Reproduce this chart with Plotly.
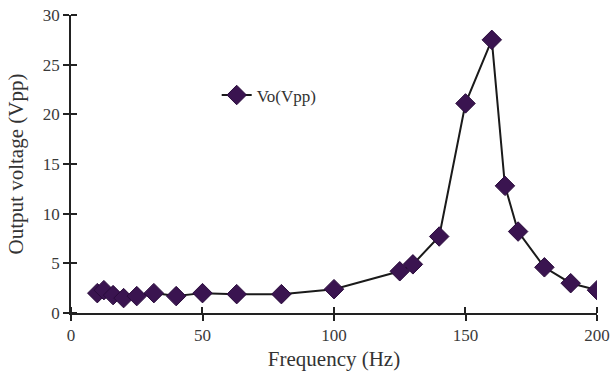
import plotly.graph_objects as go

freq_hz = [10, 12.5, 16, 20, 25, 31.5, 40, 50, 63, 80, 100, 125, 130, 140, 150, 160, 165, 170, 180, 190, 200]
vo_vpp = [2.0, 2.3, 1.8, 1.5, 1.7, 2.0, 1.7, 2.0, 1.9, 1.9, 2.4, 4.2, 4.9, 7.7, 21.1, 27.5, 12.8, 8.2, 4.6, 3.0, 2.3]
series_name = "Vo(Vpp)"
x_title = "Frequency (Hz)"
y_title = "Output voltage (Vpp)"

font_family = "Liberation Serif, Times New Roman, serif"

fig = go.Figure()
fig.add_trace(go.Scatter(
    x=freq_hz, y=vo_vpp, mode="lines+markers", name=series_name,
    line=dict(color="#1a1a1a", width=2),
    marker=dict(symbol="diamond", size=15, color="#3a1450",
                line=dict(color="#2a0c3c", width=1)),
))

axis_common = dict(showgrid=False, zeroline=False, showline=True, linecolor="#222",
                   linewidth=1.5, ticks="outside", ticklen=6, tickwidth=1.5, automargin=False,
                   ticklabeloverflow="allow",
                   tickcolor="#222", tickfont=dict(family=font_family, size=17, color="#3a3a3a"))

fig.update_layout(
    width=614, height=376,
    margin=dict(l=71, r=17, t=15, b=63),
    paper_bgcolor="white", plot_bgcolor="white",
    font=dict(family=font_family, color="#333"),
    showlegend=True,
    legend=dict(x=0.277, y=0.73, xanchor="left", yanchor="middle", itemwidth=30,
                bgcolor="rgba(0,0,0,0)", font=dict(family=font_family, size=17, color="#333")),
    xaxis=dict(range=[0, 200], dtick=50, tick0=0,
               minor=dict(ticks="inside", tick0=-0.005, dtick=50, ticklen=6, tickwidth=1.5, tickcolor="#222"),
               title=dict(text=x_title, font=dict(family=font_family, size=21, color="#333"), standoff=7),
               **axis_common),
    yaxis=dict(range=[0, 30], dtick=5, tick0=0,
               minor=dict(ticks="inside", tick0=-0.001, dtick=5, ticklen=6, tickwidth=1.5, tickcolor="#222"),
               title=dict(text=y_title, font=dict(family=font_family, size=21, color="#333"), standoff=13),
               **axis_common),
)

fig.write_html("out.html", config={"displayModeBar": False},
               post_script="document.body.style.margin='0';")
